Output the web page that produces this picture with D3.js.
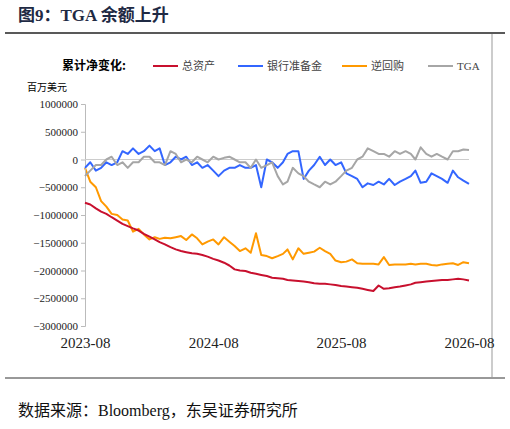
<!DOCTYPE html>
<html><head><meta charset="utf-8">
<script src="https://cdn.jsdelivr.net/npm/d3@7"></script>
<style>body{margin:0;background:#fff}</style>
</head><body>
<script>
// values in thousand of millions USD (x1000 = 百万美元), semi-monthly from 2023-08
const totalAssets = [-780,-810,-880,-940,-980,-1040,-1100,-1160,-1200,-1240,-1280,-1340,-1390,-1440,-1490,-1530,-1580,-1620,-1650,-1670,-1690,-1700,-1720,-1750,-1790,-1820,-1860,-1910,-1980,-2000,-2010,-2040,-2060,-2080,-2100,-2130,-2140,-2150,-2170,-2180,-2190,-2200,-2210,-2230,-2240,-2240,-2250,-2260,-2280,-2290,-2300,-2310,-2330,-2350,-2370,-2270,-2330,-2320,-2300,-2290,-2270,-2250,-2220,-2210,-2200,-2190,-2180,-2170,-2170,-2160,-2150,-2160,-2180];
const reserves = [-150,-50,-200,-150,-50,-100,-50,150,100,200,100,150,250,150,200,-100,-50,50,0,50,-100,-50,-150,-100,-200,-300,-200,-150,-150,-100,-150,-150,-100,-500,0,-50,-150,-50,100,150,150,-350,-200,-100,50,-100,0,-100,-50,-250,-300,-350,-500,-430,-460,-400,-450,-350,-460,-400,-350,-300,-200,-420,-400,-250,-300,-350,-420,-200,-320,-380,-440];
const reverseRepo = [-150,-400,-500,-750,-850,-980,-1000,-1080,-1100,-1300,-1250,-1350,-1440,-1400,-1430,-1410,-1420,-1400,-1380,-1450,-1350,-1420,-1530,-1480,-1440,-1530,-1400,-1480,-1560,-1650,-1600,-1680,-1330,-1720,-1740,-1780,-1740,-1700,-1620,-1800,-1600,-1700,-1680,-1660,-1590,-1650,-1700,-1820,-1850,-1840,-1800,-1870,-1880,-1880,-1880,-1890,-1760,-1900,-1890,-1890,-1890,-1880,-1890,-1880,-1880,-1900,-1910,-1890,-1880,-1870,-1900,-1850,-1870];
const tga = [-300,-200,-100,-100,0,50,-100,-50,-150,-50,-50,50,50,-50,-50,-100,150,100,-50,0,-50,50,0,-50,50,0,30,50,0,-50,-50,-150,0,-150,-100,-50,-300,-450,-400,-150,-250,-300,-400,-450,-500,-400,-450,-400,-300,-200,-150,0,50,200,150,100,100,50,150,100,150,100,0,220,100,50,100,50,0,150,150,180,170];
const seriesNames = ["总资产","银行准备金","逆回购","TGA"];
const seriesColors = ["#c8102e","#3366ff","#ff9900","#a6a6a6"];
const yTicks = [1000000,500000,0,-500000,-1000000,-1500000,-2000000,-2500000,-3000000];
const xTickLabels = ["2023-08","2024-08","2025-08","2026-08"];

const W = 510, H = 429;
const svg = d3.select("body").append("svg").attr("width", W).attr("height", H)
  .style("font-family", "'Liberation Serif','Times New Roman',serif");

const dates = totalAssets.map((_, j) => {
  const d = d3.timeMonth.offset(new Date(2023, 7, 1), Math.floor(j / 2));
  return j % 2 ? d3.timeDay.offset(d, 15) : d;
});
const x = d3.scaleTime().domain([new Date(2023, 7, 1), new Date(2026, 7, 1)]).range([85, 469]);
const y = d3.scaleLinear().domain([-3000000, 1000000]).range([326, 104]);

// title and frame
svg.append("text").attr("x", 18).attr("y", 21).attr("font-size", 17).attr("font-weight", "bold")
  .attr("fill", "#1f2a44").attr("font-family", "'Liberation Serif','Noto Sans CJK SC',serif").text("图9：TGA 余额上升");
svg.append("line").attr("x1", 5).attr("x2", 505).attr("y1", 33).attr("y2", 33).attr("stroke", "#222").attr("stroke-width", 1.5);
svg.append("line").attr("x1", 492).attr("x2", 492).attr("y1", 34).attr("y2", 377).attr("stroke", "#999");
svg.append("line").attr("x1", 5).attr("x2", 505).attr("y1", 378).attr("y2", 378).attr("stroke", "#333");
svg.append("text").attr("x", 18).attr("y", 416).attr("font-size", 16).attr("fill", "#111")
  .attr("font-family", "'Liberation Serif','Noto Sans CJK SC',serif").text("数据来源：Bloomberg，东吴证券研究所");

// legend
svg.append("text").attr("x", 62).attr("y", 70).attr("font-size", 12).attr("font-weight", "bold")
  .attr("font-family", "'Noto Sans CJK SC',sans-serif").text("累计净变化:");
const legX = [153, 238, 342, 428];
seriesNames.forEach((n, i) => {
  svg.append("line").attr("x1", legX[i]).attr("x2", legX[i] + 25).attr("y1", 66).attr("y2", 66)
    .attr("stroke", seriesColors[i]).attr("stroke-width", 2);
  svg.append("text").attr("x", legX[i] + 29).attr("y", 70).attr("font-size", 11).attr("fill", "#444")
    .attr("font-family", i === 3 ? "'Liberation Serif',serif" : "'Noto Sans CJK SC',sans-serif").text(n);
});
svg.append("text").attr("x", 27).attr("y", 91).attr("font-size", 10)
  .attr("font-family", "'Noto Sans CJK SC',sans-serif").text("百万美元");

// y axis
const yAxis = svg.append("g").attr("transform", "translate(85,0)")
  .call(d3.axisLeft(y).tickValues(yTicks).tickSize(4).tickFormat(d3.format("d")));
yAxis.select(".domain").attr("stroke", "#bbb");
yAxis.selectAll(".tick line").attr("stroke", "#bbb");
yAxis.selectAll("text").attr("font-size", 11).attr("fill", "#222").attr("font-family", "'Liberation Serif',serif");

// zero line
svg.append("line").attr("x1", 85).attr("x2", 469).attr("y1", y(0)).attr("y2", y(0)).attr("stroke", "#ccc");

// x labels
const xAxis = svg.append("g").attr("transform", "translate(0,326)")
  .call(d3.axisBottom(x).tickValues(xTickLabels.map(s => d3.timeParse("%Y-%m")(s))).tickSize(0).tickFormat(d3.timeFormat("%Y-%m")));
xAxis.select(".domain").remove();
xAxis.selectAll("text").attr("font-size", 15).attr("fill", "#222").attr("dy", "1.25em").attr("font-family", "'Liberation Serif',serif");

const line = d3.line().x((d, j) => x(dates[j])).y(d => y(d * 1000));
[totalAssets, reserves, reverseRepo, tga].forEach((s, i) => {
  svg.append("path").datum(s).attr("d", line).attr("fill", "none")
    .attr("stroke", seriesColors[i]).attr("stroke-width", 2).attr("stroke-linejoin", "round");
});
// draw order: gray under blue
svg.selectAll("path").filter((d, i) => i === 3).lower();
</script>
</body></html>
